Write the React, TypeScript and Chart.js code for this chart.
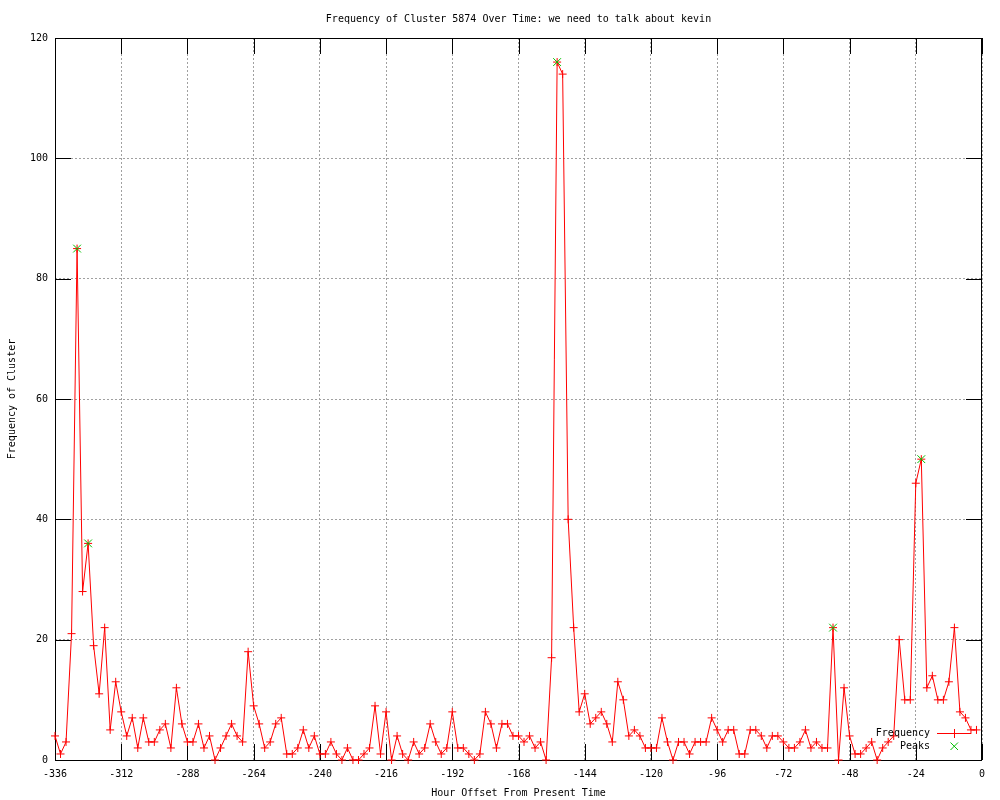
import { useEffect, useRef } from "react";
import { Chart, registerables } from "chart.js";

Chart.register(...registerables);

const TITLE = "Frequency of Cluster 5874 Over Time: we need to talk about kevin";
const X_LABEL = "Hour Offset From Present Time";
const Y_LABEL = "Frequency of Cluster";
const SERIES_FREQ = "Frequency";
const SERIES_PEAKS = "Peaks";

const hours = [
  -336, -334, -332, -330, -328, -326, -324, -322, -320, -318, -316, -314, -312, -310, -308, -306,
  -304, -302, -300, -298, -296, -294, -292, -290, -288, -286, -284, -282, -280, -278, -276, -274,
  -272, -270, -268, -266, -264, -262, -260, -258, -256, -254, -252, -250, -248, -246, -244, -242,
  -240, -238, -236, -234, -232, -230, -228, -226, -224, -222, -220, -218, -216, -214, -212, -210,
  -208, -206, -204, -202, -200, -198, -196, -194, -192, -190, -188, -186, -184, -182, -180, -178,
  -176, -174, -172, -170, -168, -166, -164, -162, -160, -158, -156, -154, -152, -150, -148, -146,
  -144, -142, -140, -138, -136, -134, -132, -130, -128, -126, -124, -122, -120, -118, -116, -114,
  -112, -110, -108, -106, -104, -102, -100, -98, -96, -94, -92, -90, -88, -86, -84, -82,
  -80, -78, -76, -74, -72, -70, -68, -66, -64, -62, -60, -58, -56, -54, -52, -50,
  -48, -46, -44, -42, -40, -38, -36, -34, -32, -30, -28, -26, -24, -22, -20, -18,
  -16, -14, -12, -10, -8, -6, -4, -2,
];

const frequency = [
  4, 1, 3, 21, 85, 28, 36, 19, 11, 22, 5, 13, 8, 4, 7, 2,
  7, 3, 3, 5, 6, 2, 12, 6, 3, 3, 6, 2, 4, 0, 2, 4,
  6, 4, 3, 18, 9, 6, 2, 3, 6, 7, 1, 1, 2, 5, 2, 4,
  1, 1, 3, 1, 0, 2, 0, 0, 1, 2, 9, 1, 8, 0, 4, 1,
  0, 3, 1, 2, 6, 3, 1, 2, 8, 2, 2, 1, 0, 1, 8, 6,
  2, 6, 6, 4, 4, 3, 4, 2, 3, 0, 17, 116, 114, 40, 22, 8,
  11, 6, 7, 8, 6, 3, 13, 10, 4, 5, 4, 2, 2, 2, 7, 3,
  0, 3, 3, 1, 3, 3, 3, 7, 5, 3, 5, 5, 1, 1, 5, 5,
  4, 2, 4, 4, 3, 2, 2, 3, 5, 2, 3, 2, 2, 22, 0, 12,
  4, 1, 1, 2, 3, 0, 2, 3, 4, 20, 10, 10, 46, 50, 12, 14,
  10, 10, 13, 22, 8, 7, 5, 5,
];

const peakHours = [-328, -324, -154, -54, -22];
const peakValues = [85, 36, 116, 22, 50];

const xTickValues = [-336, -312, -288, -264, -240, -216, -192, -168, -144, -120, -96, -72, -48, -24, 0];
const yTickValues = [0, 20, 40, 60, 80, 100, 120];

const FONT_FAMILY = '"DejaVu Sans Mono", "Liberation Mono", monospace';
const RED = "#ff0000";
const GREEN = "#00c000";
const GRID = "#a0a0a0";

const frameAndTics = {
  id: "frameAndTics",
  beforeDatasetsDraw(chart: any) {
    const { ctx, chartArea: ca, scales } = chart;
    const ticLen = 16;
    ctx.save();
    ctx.strokeStyle = "#000";
    ctx.lineWidth = 1;
    ctx.setLineDash([]);
    ctx.beginPath();
    xTickValues.forEach((v) => {
      const px = Math.round(scales.x.getPixelForValue(v)) + 0.5;
      ctx.moveTo(px, ca.bottom);
      ctx.lineTo(px, ca.bottom - ticLen);
      ctx.moveTo(px, ca.top);
      ctx.lineTo(px, ca.top + ticLen);
    });
    yTickValues.forEach((v) => {
      const py = Math.round(scales.y.getPixelForValue(v)) + 0.5;
      ctx.moveTo(ca.left, py);
      ctx.lineTo(ca.left + ticLen, py);
      ctx.moveTo(ca.right, py);
      ctx.lineTo(ca.right - ticLen, py);
    });
    ctx.stroke();
    ctx.strokeRect(ca.left + 0.5, ca.top + 0.5, ca.right - ca.left - 1, ca.bottom - ca.top);
    ctx.restore();
  },
};

const gnuplotKey = {
  id: "gnuplotKey",
  afterDatasetsDraw(chart: any) {
    const { ctx, chartArea: ca } = chart;
    const textRight = ca.right - 52;
    const sampleL = ca.right - 45;
    const sampleR = ca.right - 11;
    const markX = ca.right - 28;
    const row1 = ca.bottom - 27;
    const row2 = ca.bottom - 14;
    ctx.save();
    ctx.font = `10px ${FONT_FAMILY}`;
    ctx.fillStyle = "#000";
    ctx.textAlign = "right";
    ctx.textBaseline = "middle";
    ctx.fillText(SERIES_FREQ, textRight, row1);
    ctx.fillText(SERIES_PEAKS, textRight, row2);
    ctx.lineWidth = 1;
    ctx.strokeStyle = RED;
    ctx.beginPath();
    ctx.moveTo(sampleL, row1 + 0.5);
    ctx.lineTo(sampleR, row1 + 0.5);
    ctx.moveTo(markX + 0.5, row1 - 4);
    ctx.lineTo(markX + 0.5, row1 + 5);
    ctx.stroke();
    ctx.strokeStyle = GREEN;
    ctx.beginPath();
    ctx.moveTo(markX - 3.5, row2 - 3.5);
    ctx.lineTo(markX + 4, row2 + 4);
    ctx.moveTo(markX + 4, row2 - 3.5);
    ctx.lineTo(markX - 3.5, row2 + 4);
    ctx.stroke();
    ctx.restore();
  },
};

export default function App() {
  const canvasRef = useRef<HTMLCanvasElement | null>(null);

  useEffect(() => {
    const canvas = canvasRef.current;
    if (!canvas) return;
    const font = { family: FONT_FAMILY, size: 10, weight: "normal" as const };

    const chart = new Chart(canvas, {
      type: "line",
      data: {
        datasets: [
          {
            label: SERIES_FREQ,
            data: hours.map((h, i) => ({ x: h, y: frequency[i] })),
            borderColor: RED,
            backgroundColor: RED,
            borderWidth: 1,
            pointStyle: "cross",
            pointRadius: 4,
            pointHoverRadius: 4,
            pointBorderColor: RED,
            pointBorderWidth: 1,
            tension: 0,
            fill: false,
            clip: false as any,
            order: 1,
          },
          {
            label: SERIES_PEAKS,
            data: peakHours.map((h, i) => ({ x: h, y: peakValues[i] })),
            showLine: false,
            borderColor: GREEN,
            backgroundColor: GREEN,
            pointStyle: "crossRot",
            pointRadius: 5.5,
            pointHoverRadius: 5.5,
            pointBorderColor: GREEN,
            pointBorderWidth: 1,
            clip: false as any,
            order: 0,
          },
        ],
      },
      options: {
        animation: false,
        responsive: false,
        devicePixelRatio: 1,
        events: [],
        layout: { padding: { left: 0, right: 18, top: 0, bottom: 0 } },
        plugins: {
          legend: { display: false },
          tooltip: { enabled: false },
          title: {
            display: true,
            text: TITLE,
            color: "#000",
            font,
            fullSize: false,
            padding: { top: 13, bottom: 13 },
          },
        },
        scales: {
          x: {
            type: "linear",
            min: -336,
            max: 0,
            afterBuildTicks: (s: any) => {
              s.ticks = xTickValues.map((v) => ({ value: v }));
            },
            afterFit: (s: any) => {
              s.height = 40;
            },
            grid: { color: GRID, lineWidth: 1, drawTicks: false },
            border: { display: false, dash: [2, 2] },
            ticks: {
              color: "#000",
              font,
              padding: 8,
              maxRotation: 0,
              autoSkip: false,
              callback: (v: any) => String(v),
            },
            title: {
              display: true,
              text: X_LABEL,
              color: "#000",
              font,
              padding: { top: 0, bottom: 1 },
            },
          },
          y: {
            type: "linear",
            min: 0,
            max: 120,
            afterBuildTicks: (s: any) => {
              s.ticks = yTickValues.map((v) => ({ value: v }));
            },
            afterFit: (s: any) => {
              s.width = 55;
            },
            grid: { color: GRID, lineWidth: 1, drawTicks: false },
            border: { display: false, dash: [2, 2] },
            ticks: {
              color: "#000",
              font,
              padding: 7,
              autoSkip: false,
              callback: (v: any) => String(v),
            },
            title: {
              display: true,
              text: Y_LABEL,
              color: "#000",
              font,
              padding: { top: 6.5, bottom: 0 },
            },
          },
        },
      },
      plugins: [frameAndTics, gnuplotKey],
    });

    return () => chart.destroy();
  }, []);

  return (
    <div style={{ position: "absolute", left: 0, top: 0, width: 1000, height: 800, background: "#fff" }}>
      <canvas ref={canvasRef} width={1000} height={800} style={{ display: "block" }} />
    </div>
  );
}
